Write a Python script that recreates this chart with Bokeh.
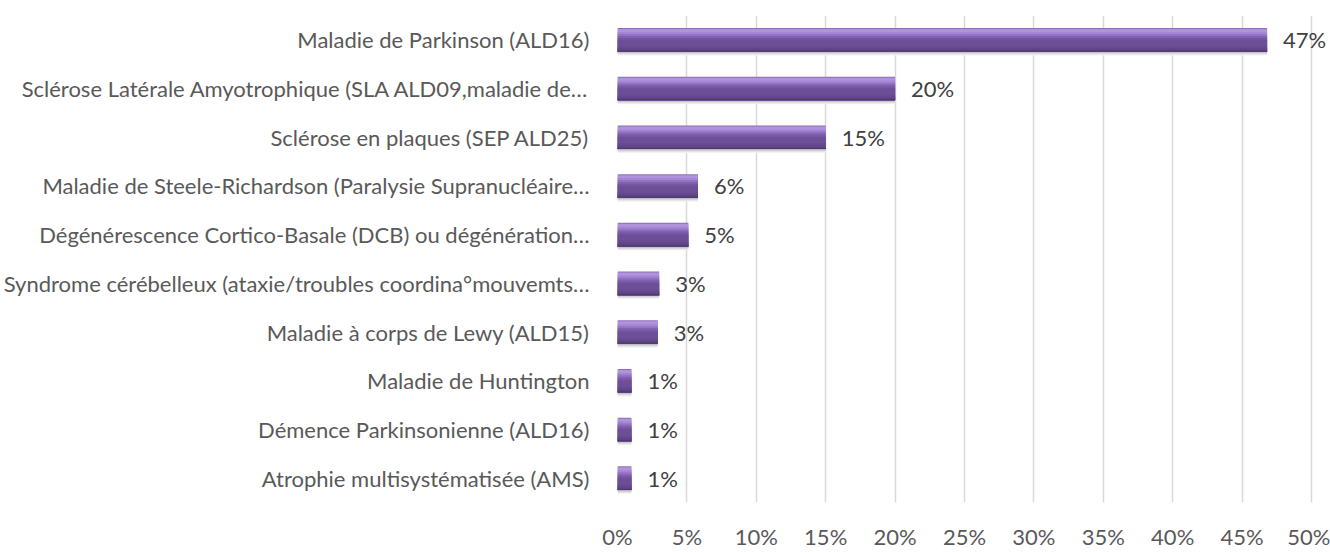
from bokeh.plotting import figure
from bokeh.models import ColumnDataSource, LabelSet, FixedTicker, FactorRange, Range1d
from bokeh.core.properties import value
from bokeh.transform import dodge
from bokeh.embed import file_html
from bokeh.resources import INLINE

categories = [
    "Maladie de Parkinson (ALD16)",
    "Sclérose Latérale Amyotrophique (SLA ALD09,maladie de…",
    "Sclérose en plaques (SEP ALD25)",
    "Maladie de Steele-Richardson (Paralysie Supranucléaire…",
    "Dégénérescence Cortico-Basale (DCB) ou dégénération…",
    "Syndrome cérébelleux (ataxie/troubles coordina°mouvemts…",
    "Maladie à corps de Lewy (ALD15)",
    "Maladie de Huntington",
    "Démence Parkinsonienne (ALD16)",
    "Atrophie multisystématisée (AMS)",
]
values = [46.8, 20.0, 15.0, 5.8, 5.1, 3.0, 2.9, 1.0, 1.0, 1.0]
value_labels = ["47%", "20%", "15%", "6%", "5%", "3%", "3%", "1%", "1%", "1%"]
tick_values = [0, 5, 10, 15, 20, 25, 30, 35, 40, 45, 50]
tick_labels = ["0%", "5%", "10%", "15%", "20%", "25%", "30%", "35%", "40%", "45%", "50%"]

FONT = "Lato"
BAND_PX = 49.6           # pixel height of one category band
BAR_PX = 24.0            # pixel height of a bar

# soft shadow under each bar: (pixels below the bar's bottom, colour), lightest drawn first
shadow_layers = [(4, "#f2f2f2"), (3, "#e3e3e3"), (2, "#d0d0d0"), (1, "#b9b7bc")]
# cylinder-like shading: (pixel from bar top where the layer starts, colour);
# each layer runs down to the bar's bottom and covers the previous one
bar_layers = [(0, "#8c6fb9"), (1, "#b193dd"), (4, "#a585d4"), (6, "#9373c4"),
              (8, "#8061af"), (10, "#7456a1"), (12, "#6d4f97"), (18, "#684b91"),
              (20, "#614689"), (22, "#5a4180"), (23, "#4f3970")]

src = ColumnDataSource(dict(cat=categories, val=values, lab=value_labels))

p = figure(
    width=1330, height=552,
    x_range=Range1d(0, 51.37),
    y_range=FactorRange(*reversed(categories)),
    output_backend="svg", toolbar_location=None,
    min_border_left=617, min_border_right=0, min_border_top=15, min_border_bottom=41,
)
p.outline_line_color = None
p.background_fill_color = "white"
p.border_fill_color = "white"


def add_layer(top_px, bottom_px, colour):
    centre = (top_px + bottom_px) / 2
    off = (BAR_PX / 2 - centre) / BAND_PX
    p.hbar(y=dodge("cat", off, range=p.y_range), left=0, right="val",
           height=(bottom_px - top_px) / BAND_PX, source=src,
           fill_color=colour, line_color=None)


for depth, col in shadow_layers:
    add_layer(BAR_PX - 1, BAR_PX + depth, col)
for top, col in bar_layers:
    add_layer(top, BAR_PX, col)

p.ygrid.grid_line_color = None
p.yaxis.axis_line_color = None
p.yaxis.major_tick_line_color = None
p.yaxis.minor_tick_line_color = None
p.yaxis.major_label_text_font = FONT
p.yaxis.major_label_text_font_size = "22px"
p.yaxis.major_label_text_color = "#595959"
p.yaxis.major_label_standoff = 22

ticker = FixedTicker(ticks=tick_values)
p.xaxis.ticker = ticker
p.xgrid.ticker = ticker
p.xgrid.grid_line_color = "#d9d9d9"
p.xgrid.grid_line_width = 1.5
p.xaxis.axis_line_color = None
p.xaxis.major_tick_line_color = None
p.xaxis.minor_tick_line_color = None
p.xaxis.major_label_overrides = {t: l for t, l in zip(tick_values, tick_labels)}
p.xaxis.major_label_text_font = FONT
p.xaxis.major_label_text_font_size = "22px"
p.xaxis.major_label_text_color = "#595959"
p.xaxis.major_label_standoff = 14

val_labels = LabelSet(x="val", y="cat", text="lab", source=src, x_offset=16,
                      text_align="left", text_baseline="middle",
                      text_font=value(FONT), text_font_size=value("22px"),
                      text_color="#404040")
p.add_layout(val_labels)

open("out.html", "w").write(file_html(p, INLINE))
